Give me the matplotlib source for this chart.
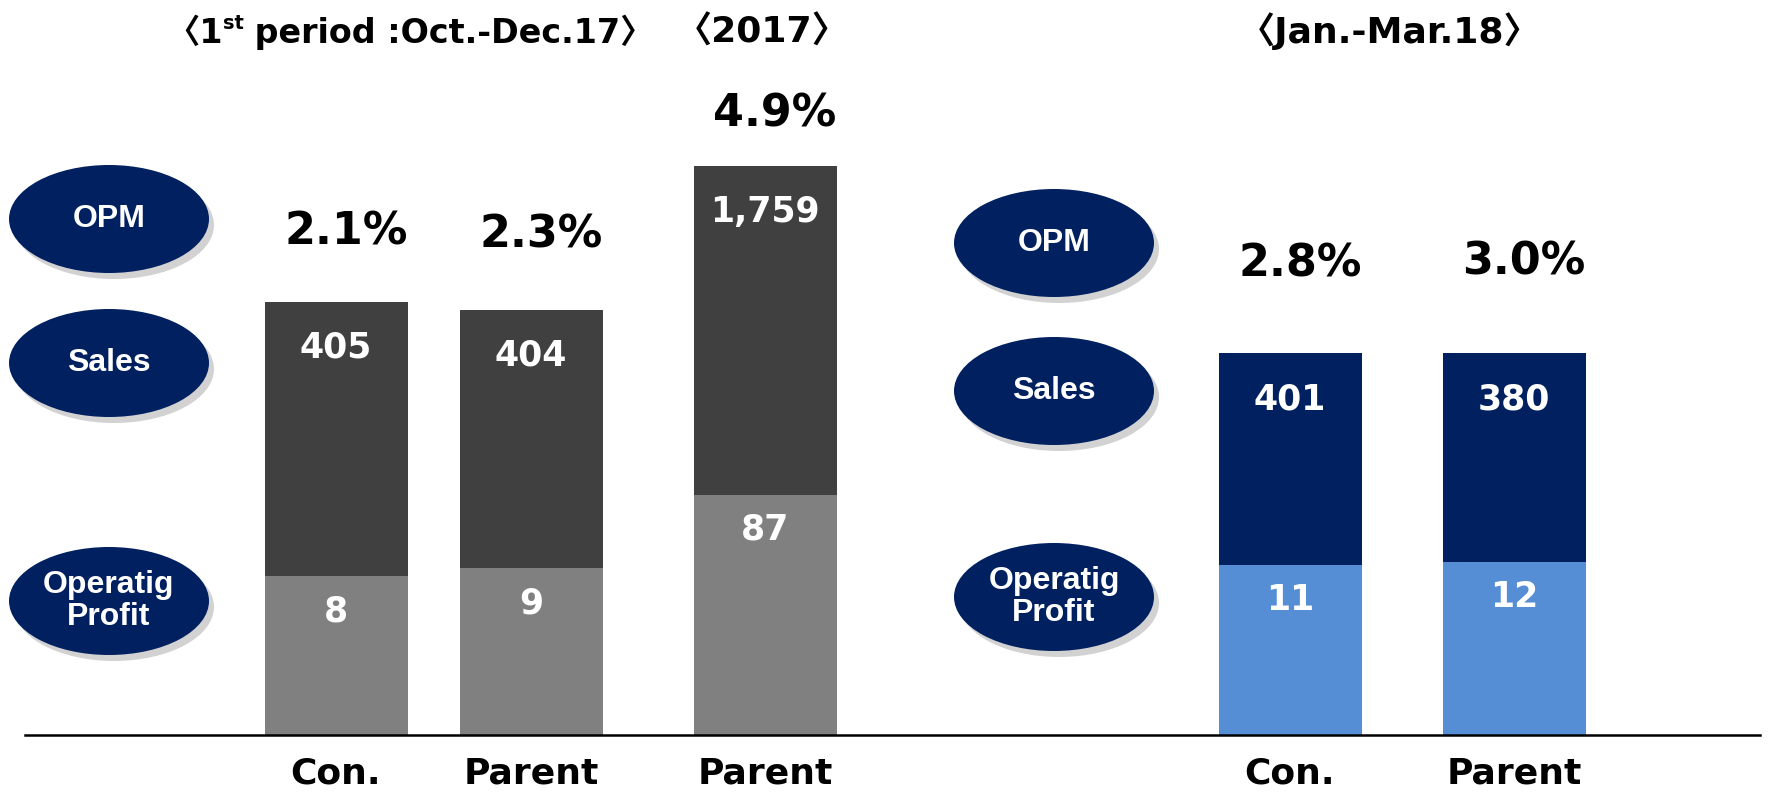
import matplotlib.pyplot as plt
from matplotlib.patches import Ellipse

# Data (labels as printed; heights as drawn on the slide, in pixels)
categories = ['Con.', 'Parent', 'Parent', 'Con.', 'Parent']
sales_labels = ['405', '404', '1,759', '401', '380']
profit_labels = ['8', '9', '87', '11', '12']
opm_labels = ['2.1%', '2.3%', '4.9%', '2.8%', '3.0%']
profit_heights = [159, 167, 240, 170, 173]
sales_heights = [274, 258, 329, 212, 209]
period_titles = ['〈2017〉', '〈Jan.-Mar.18〉']

# Layout
W, H = 1785, 792
base = 57  # baseline distance from bottom
xs = [336, 531, 765, 1290, 1514]
bar_w = 143
opm_gap = [70, 75, 52, 89, 91]
top_colors = ['#404040', '#404040', '#404040', '#002060', '#002060']
bot_colors = ['#808080', '#808080', '#808080', '#558ED5', '#558ED5']
narrow = ['DejaVu Sans', 'Noto Sans CJK KR']

fig = plt.figure(figsize=(W / 100, H / 100), dpi=100)
ax = fig.add_axes([0, 0, 1, 1])
ax.set_xlim(0, W)
ax.set_ylim(-base, H - base)
ax.axis('off')

ax.bar(xs, profit_heights, width=bar_w, color=bot_colors, zorder=2)
ax.bar(xs, sales_heights, width=bar_w, bottom=profit_heights, color=top_colors, zorder=2)
ax.plot([25, 1760], [0, 0], color='black', lw=1.8, zorder=3)

for i, x in enumerate(xs):
    total = profit_heights[i] + sales_heights[i]
    ax.text(x, total - 46, sales_labels[i], ha='center', va='center', color='white',
            fontsize=25, fontweight='bold', zorder=4)
    ax.text(x, profit_heights[i] - 35, profit_labels[i], ha='center', va='center', color='white',
            fontsize=25, fontweight='bold', zorder=4)
    ax.text(x + 10, total + opm_gap[i], opm_labels[i], ha='center', va='center', color='black',
            fontsize=32, fontweight='bold')
    ax.text(x, -39, categories[i], ha='center', va='center', color='black',
            fontsize=26, fontweight='bold', family=narrow)

# Period titles
ty = 692
tkw = dict(fontweight='bold', family=narrow, va='baseline')
t1 = ax.text(166, ty, '〈1', ha='left', fontsize=24, **tkw)
t2 = ax.annotate('st', xy=(1, ty), xycoords=(t1, 'data'), xytext=(0, 10),
                 textcoords='offset points', ha='left', fontsize=14, **tkw)
ax.annotate(' period :Oct.-Dec.17〉', xy=(1, ty), xycoords=(t2, 'data'),
            ha='left', fontsize=24, **tkw)
for tx, t in zip([762, 1390], period_titles):
    ax.text(tx, ty, t, ha='center', fontsize=26, **tkw)

# Legend ellipses
ell_groups = [(109, [516, 372, 134]), (1054, [492, 344, 138])]
ell_text = ['OPM', 'Sales', 'Operatig\nProfit']
for cx, ys in ell_groups:
    for cy, lab in zip(ys, ell_text):
        ax.add_patch(Ellipse((cx + 5, cy - 6), 200, 108, color='#7f7f7f', alpha=0.35, lw=0, zorder=1))
        ax.add_patch(Ellipse((cx, cy), 200, 108, color='#002060', lw=0, zorder=2))
        ax.text(cx, cy, lab, ha='center', va='center', color='white', fontsize=23,
                fontweight='bold', family=['Liberation Sans', 'DejaVu Sans'],
                linespacing=1.05, zorder=3)

plt.savefig('out.png', dpi=100, facecolor='white')
